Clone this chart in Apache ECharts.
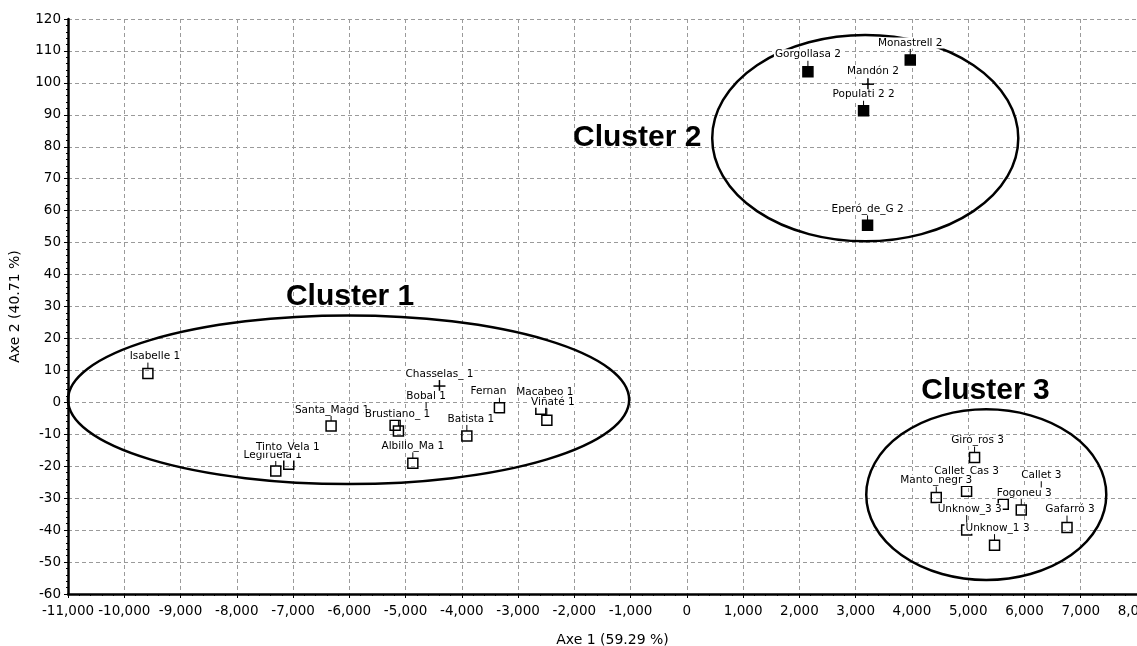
<!DOCTYPE html>
<html>
<head>
<meta charset="utf-8">
<script src="https://cdn.jsdelivr.net/npm/echarts@6/dist/echarts.min.js"></script>
<style>
  html, body { margin: 0; padding: 0; background: #fff; }
  #chart { width: 1137px; height: 646px; }
</style>
</head>
<body>
<div id="chart"></div>
<script>
// Cluster 1 observations (Axe 1, Axe 2)
const c1Names = ['Isabelle 1', 'Legiruela 1', 'Tinto_Vela 1', 'Santa_Magd 1', 'Albillo_Ma 1',
  'Bobal 1', 'Brustiano_ 1', 'Chasselas_ 1', 'Batista 1', 'Fernan', 'Macabeo 1', 'Viñaté 1'];
const c1X = [-9580, -7307, -7076, -6324, -4871, -5186, -5127, -4398, -3911, -3332, -2596, -2489];
const c1Y = [9.0, -21.5, -19.4, -7.4, -19.1, -7.2, -9.0, 5.1, -10.5, -1.7, -2.2, -5.6];

// Cluster 2 observations
const c2Names = ['Gorgollasa 2', 'Monastrell 2', 'Mandón 2', 'Populati 2 2', 'Eperó_de_G 2'];
const c2X = [2151, 3970, 3218, 3140, 3211];
const c2Y = [103.5, 107.2, 99.6, 91.3, 55.4];

// Cluster 3 observations
const c3Names = ['Giró_ros 3', 'Callet_Cas 3', 'Callet 3', 'Manto_negr 3', 'Fogoneu 3',
  'Unknow_3 3', 'Unknow_1 3', 'Gafarró 3'];
const c3X = [5113, 4971, 5623, 4432, 5943, 4973, 5468, 6756];
const c3Y = [-17.3, -27.8, -31.9, -29.8, -33.7, -40.0, -44.7, -39.2];

// Cluster outlines: centre and half-axes in data units
const ellipseCx = [-6013, 3170, 5321];
const ellipseCy = [0.8, 82.7, -28.9];
const ellipseRx = [4987, 2720, 2133];
const ellipseRy = [26.4, 32.3, 26.7];

// Cluster titles and their anchor points
const clusterTitles = ['Cluster 1', 'Cluster 2', 'Cluster 3'];
const titleX = [-5986, -884, 5307];
const titleY = [33.2, 82.8, 3.6];

// Axis ranges and steps
const xMin = -11000, xMax = 8000, xStep = 1000;
const yMin = -60, yMax = 120, yStep = 10;
const xTitle = 'Axe 1 (59.29 %)';
const yTitle = 'Axe 2 (40.71 %)';

// Observations drawn with a plus sign instead of a square
const crossPoints = ['Chasselas_ 1', 'Mandón 2'];

// Label placement relative to each marker, in pixels [dx, dy]
const labelShift = {
  'Isabelle 1': [7, -17], 'Legiruela 1': [-3, -16], 'Tinto_Vela 1': [-1, -17],
  'Santa_Magd 1': [1, -16], 'Albillo_Ma 1': [0, -17], 'Bobal 1': [31, -29],
  'Brustiano_ 1': [-1, -17], 'Chasselas_ 1': [0, -12], 'Batista 1': [4, -17],
  'Fernan': [-11, -16], 'Macabeo 1': [4, -17], 'Viñaté 1': [6, -18],
  'Gorgollasa 2': [0, -17], 'Monastrell 2': [0, -17], 'Mandón 2': [5, -13],
  'Populati 2 2': [0, -16], 'Eperó_de_G 2': [0, -16],
  'Giró_ros 3': [3, -17], 'Callet_Cas 3': [0, -20], 'Callet 3': [38, -29],
  'Manto_negr 3': [0, -17], 'Fogoneu 3': [3, -17], 'Unknow_3 3': [3, -21],
  'Unknow_1 3': [3, -17], 'Gafarró 3': [3, -18]
};

const LABEL_FONT = '10.5px "DejaVu Sans", sans-serif';
const AXIS_FONT = 'DejaVu Sans';

function toData(xs, ys) {
  return xs.map((x, i) => [x, ys[i], i]);
}

function shiftOf(name) {
  return labelShift[name] || [0, -17];
}

// Markers and their leader lines
function markerRenderer(names, fillKind) {
  return function (params, api) {
    const p = api.coord([api.value(0), api.value(1)]);
    const name = names[params.dataIndex];
    const [dx, dy] = shiftOf(name);
    const stroke = { stroke: '#000', lineWidth: 1.5 };
    const children = [];
    if (crossPoints.includes(name)) {
      children.push({ type: 'line', shape: { x1: p[0] - 6, y1: p[1], x2: p[0] + 6, y2: p[1] }, style: stroke });
      children.push({ type: 'line', shape: { x1: p[0], y1: p[1] - 6, x2: p[0], y2: p[1] + 6 }, style: stroke });
    } else {
      children.push({
        type: 'rect',
        shape: { x: p[0] - 5, y: p[1] - 5, width: 10, height: 10 },
        style: { fill: fillKind === 'filled' ? '#000' : 'none', stroke: '#000', lineWidth: 1.5 }
      });
      const far = Math.abs(dx) > 15;
      const lx = far ? p[0] + dx : p[0];
      const yTop = p[1] + dy + 6;
      const yBot = far ? yTop + 7 : p[1] - 5;
      children.push({ type: 'line', shape: { x1: lx, y1: yTop, x2: lx, y2: yBot }, style: { stroke: '#000', lineWidth: 1 } });
    }
    return { type: 'group', children };
  };
}

// Observation names on a white plate
function labelRenderer(names) {
  return function (params, api) {
    const p = api.coord([api.value(0), api.value(1)]);
    const name = names[params.dataIndex];
    const [dx, dy] = shiftOf(name);
    return {
      type: 'text',
      style: {
        text: name, x: p[0] + dx, y: p[1] + dy,
        align: 'center', verticalAlign: 'middle',
        font: LABEL_FONT, fill: '#000',
        backgroundColor: '#fff', padding: [0, 1]
      }
    };
  };
}

function ellipseRenderer(params, api) {
  const c = api.coord([api.value(0), api.value(1)]);
  const s = api.size([api.value(2), api.value(3)]);
  const rx = s[0], ry = s[1];
  const d = `M${c[0] - rx},${c[1]} A${rx},${ry} 0 1,0 ${c[0] + rx},${c[1]} ` +
            `A${rx},${ry} 0 1,0 ${c[0] - rx},${c[1]} Z`;
  return { type: 'path', shape: { pathData: d }, style: { fill: 'none', stroke: '#000', lineWidth: 2.5 } };
}

function titleRenderer(params, api) {
  const p = api.coord([api.value(0), api.value(1)]);
  return {
    type: 'text',
    style: {
      text: clusterTitles[params.dataIndex], x: p[0], y: p[1],
      align: 'center', verticalAlign: 'middle',
      font: 'bold 30px "Liberation Sans", Arial, sans-serif', fill: '#000'
    }
  };
}

const groups = [
  { names: c1Names, xs: c1X, ys: c1Y, fill: 'hollow' },
  { names: c2Names, xs: c2X, ys: c2Y, fill: 'filled' },
  { names: c3Names, xs: c3X, ys: c3Y, fill: 'hollow' }
];

const series = [];
series.push({
  type: 'custom', name: 'outlines', renderItem: ellipseRenderer, z: 2, silent: true,
  encode: { x: 0, y: 1 },
  data: ellipseCx.map((cx, i) => [cx, ellipseCy[i], ellipseRx[i], ellipseRy[i]])
});
groups.forEach((g, k) => {
  series.push({
    type: 'custom', name: 'markers' + (k + 1), renderItem: markerRenderer(g.names, g.fill),
    z: 3, silent: true, encode: { x: 0, y: 1 }, data: toData(g.xs, g.ys)
  });
});
groups.forEach((g, k) => {
  series.push({
    type: 'custom', name: 'labels' + (k + 1), renderItem: labelRenderer(g.names),
    z: 4, silent: true, encode: { x: 0, y: 1 }, data: toData(g.xs, g.ys)
  });
});
series.push({
  type: 'custom', name: 'titles', renderItem: titleRenderer, z: 5, silent: true,
  encode: { x: 0, y: 1 }, data: toData(titleX, titleY)
});

const dashed = { show: true, lineStyle: { color: '#9a9a9a', width: 1, type: [4, 3] } };

const chart = echarts.init(document.getElementById('chart'), null, { renderer: 'canvas' });
chart.setOption({
  animation: false,
  backgroundColor: '#fff',
  grid: { left: 68, right: 0, top: 19, bottom: 52, containLabel: false, outerBoundsMode: 'none' },
  xAxis: {
    type: 'value', min: xMin, max: xMax, interval: xStep,
    name: xTitle, nameLocation: 'middle', nameGap: 39,
    nameTextStyle: { fontFamily: AXIS_FONT, fontSize: 14, color: '#000', padding: [0, 0, 0, 20] },
    axisLine: { onZero: false, lineStyle: { color: '#000', width: 2.5 } },
    axisTick: { show: true, inside: false, length: 4, lineStyle: { color: '#000' } },
    minorTick: { show: true, splitNumber: 5, length: 2, lineStyle: { color: '#000' } },
    axisLabel: {
      margin: 10, fontFamily: AXIS_FONT, fontSize: 13.5, color: '#000',
      showMinLabel: true, showMaxLabel: true, hideOverlap: false,
      formatter: v => v.toLocaleString('en-US')
    },
    splitLine: dashed
  },
  yAxis: {
    type: 'value', min: yMin, max: yMax, interval: yStep,
    name: yTitle, nameLocation: 'middle', nameGap: 46, nameRotate: 90,
    nameTextStyle: { fontFamily: AXIS_FONT, fontSize: 14, color: '#000' },
    axisLine: { show: true, onZero: false, lineStyle: { color: '#000', width: 2.5 } },
    axisTick: { show: true, inside: false, length: 4, lineStyle: { color: '#000' } },
    minorTick: { show: true, splitNumber: 5, length: 2, lineStyle: { color: '#000' } },
    axisLabel: { margin: 7, fontFamily: AXIS_FONT, fontSize: 13.5, color: '#000' },
    splitLine: dashed
  },
  series
});
</script>
</body>
</html>
